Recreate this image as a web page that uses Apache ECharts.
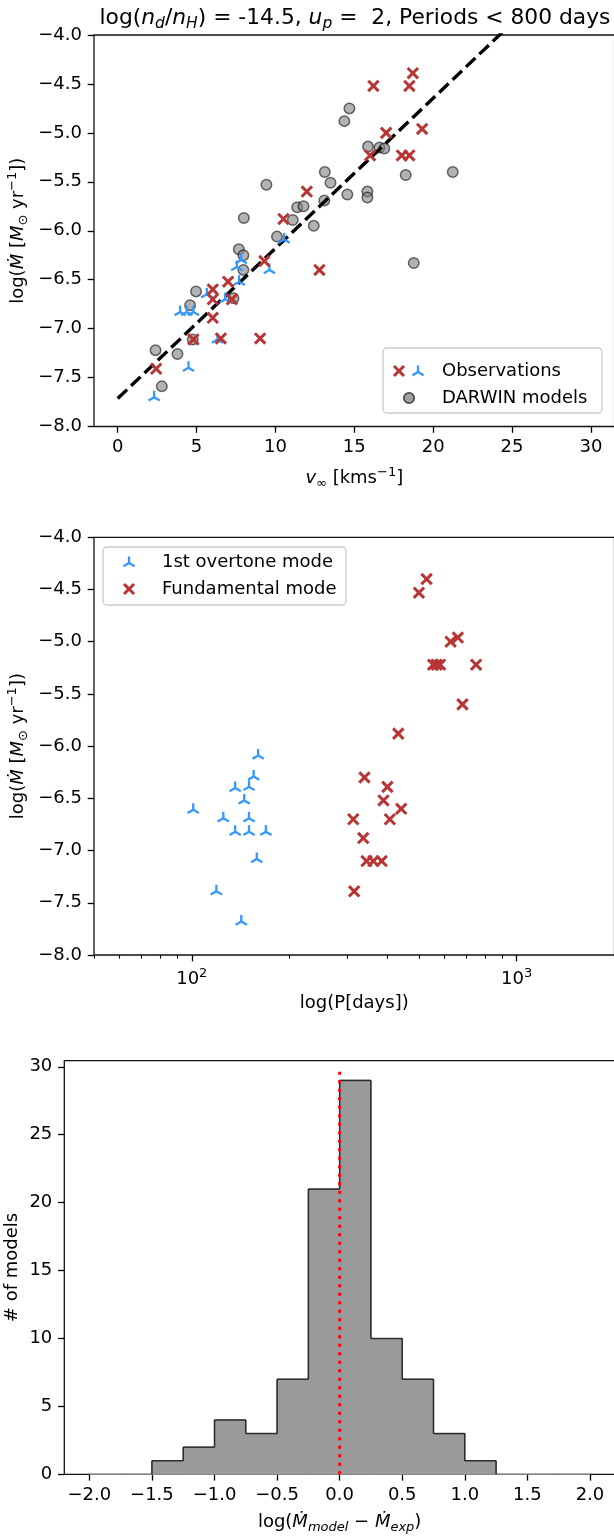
<!DOCTYPE html>
<html>
<head>
<meta charset="utf-8">
<script src="https://cdn.jsdelivr.net/npm/echarts@6/dist/echarts.min.js"></script>
<style>
html,body{margin:0;padding:0;background:#fff;overflow:hidden}
#c{width:614px;height:1537px}
</style>
</head>
<body>
<div id="c"></div>
<script>
// ---------- DATA ----------
// Panel 1: terminal wind velocity [km/s] vs log mass-loss rate
const modelV    = [14.69,14.37,15.87,16.6,16.9,13.13,13.49,14.56,15.83,15.83,13.1,9.43,11.38,11.78,11.1,12.43,8.0,10.1,7.68,21.24,18.26,18.77,7.97,7.97,4.97,4.59,7.34,4.76,2.4,3.79,2.8];
const modelMdot = [-4.75,-4.88,-5.14,-5.15,-5.16,-5.40,-5.51,-5.63,-5.60,-5.66,-5.69,-5.53,-5.76,-5.75,-5.89,-5.95,-5.87,-6.06,-6.19,-5.40,-5.43,-6.33,-6.25,-6.40,-6.62,-6.76,-6.69,-7.11,-7.22,-7.26,-7.59];

const fundV    = [16.21,11.99,10.51,16.0,18.71,18.49,17.02,19.3,18.01,18.49,9.3,12.79,7.0,6.03,6.03,7.24,6.03,4.8,6.54,9.03,2.44];
const fundMdot = [-4.52,-5.60,-5.88,-5.23,-4.39,-4.52,-5.0,-4.96,-5.23,-5.23,-6.31,-6.40,-6.52,-6.60,-6.70,-6.70,-6.89,-7.11,-7.10,-7.10,-7.41];

const overV    = [10.55,9.62,7.83,7.55,7.7,5.65,6.81,3.96,4.38,4.8,6.33,4.49,2.31];
const overMdot = [-6.09,-6.40,-6.30,-6.37,-6.52,-6.65,-6.70,-6.83,-6.83,-6.83,-7.11,-7.40,-7.70];

const fitV    = [0, 30];
const fitMdot = [-7.715, -3.11];

// Panel 2: period [days] vs log mass-loss rate
const overP     = [160,155,150,136,145,101,125,150,136,150,169,158.5,119,142];
const overMdotP = [-6.09,-6.29,-6.39,-6.40,-6.52,-6.61,-6.69,-6.69,-6.82,-6.82,-6.82,-7.08,-7.39,-7.68];

const fundP     = [528,500,659,626,553,567,581,750,681,432,340,400,389,441,314,407,337,345,362,384,316];
const fundMdotP = [-4.40,-4.53,-4.96,-5.0,-5.22,-5.22,-5.22,-5.22,-5.60,-5.88,-6.30,-6.39,-6.52,-6.60,-6.70,-6.70,-6.88,-7.10,-7.10,-7.10,-7.39];

// Panel 3: histogram
const binEdges  = [-2.0,-1.75,-1.5,-1.25,-1.0,-0.75,-0.5,-0.25,0.0,0.25,0.5,0.75,1.0,1.25,1.5,1.75,2.0];
const binCounts = [0,0,1,2,4,3,7,21,29,10,7,3,1,0,0,0];
const zeroLineX = [0, 0];
const zeroLineY = [0, 30];

// tick labels
const v_ticks   = [0,5,10,15,20,25,30];
const p_major   = [100, 1000];
const p_minor   = [50,60,70,80,90,200,300,400,500,600,700,800,900,2000];
const h_xticks  = [-2.0,-1.5,-1.0,-0.5,0.0,0.5,1.0,1.5,2.0];
const h_yticks  = [0,5,10,15,20,25,30];

// ---------- STYLE ----------
const FONT = 'DejaVu Sans';
const RED = '#b83535';
const BLUE = '#3399ff';
const minus = s => String(s).replace('-', '\u2212');

const richBase = {
  i:  {fontFamily: FONT, fontStyle: 'italic', fontSize: 18, lineHeight: 24, color: '#000'},
  s:  {fontFamily: FONT, fontSize: 13, lineHeight: 12, verticalAlign: 'bottom', color: '#000'},
  si: {fontFamily: FONT, fontStyle: 'italic', fontSize: 13, lineHeight: 12, verticalAlign: 'bottom', color: '#000'},
  p:  {fontFamily: FONT, fontSize: 13, lineHeight: 12, verticalAlign: 'top', color: '#000'}
};
const nameStyle = {fontFamily: FONT, fontSize: 18, lineHeight: 24, color: '#000', rich: richBase};

const tickStyle = {show: true, length: 6.3, lineStyle: {color: '#000', width: 1.3}};
const labelStyle = {fontFamily: FONT, fontSize: 18, color: '#000', margin: 12};
const noLine = {show: false, onZero: false};

function zip(a, b) { return a.map((v, i) => [v, b[i]]); }

function xMarker(color) {
  return function (params, api) {
    const p = api.coord([api.value(0), api.value(1)]);
    const s = 5.2;
    const st = {stroke: color, lineWidth: 3};
    return {type: 'group', children: [
      {type: 'line', shape: {x1: p[0]-s, y1: p[1]-s, x2: p[0]+s, y2: p[1]+s}, style: st},
      {type: 'line', shape: {x1: p[0]-s, y1: p[1]+s, x2: p[0]+s, y2: p[1]-s}, style: st}
    ]};
  };
}
function triUp(color) {
  return function (params, api) {
    const p = api.coord([api.value(0), api.value(1)]);
    const L = 6.5;
    const st = {stroke: color, lineWidth: 2.3};
    return {type: 'group', children: [
      {type: 'line', shape: {x1: p[0], y1: p[1], x2: p[0], y2: p[1]-L}, style: st},
      {type: 'line', shape: {x1: p[0], y1: p[1], x2: p[0]-L*0.866, y2: p[1]+L*0.5}, style: st},
      {type: 'line', shape: {x1: p[0], y1: p[1], x2: p[0]+L*0.866, y2: p[1]+L*0.5}, style: st}
    ]};
  };
}

const gridBorder = {show: true, borderColor: '#111', borderWidth: 1.3, backgroundColor: 'transparent',
                    containLabel: false, outerBoundsMode: 'none'};

const option = {
  animation: false,
  backgroundColor: '#fff',
  title: {
    text: 'log({i|n}{si|d}/{i|n}{si|H}) = -14.5, {i|u}{si|p} =  2, Periods < 800 days',
    left: 350, top: -1, textAlign: 'center',
    textStyle: {fontFamily: FONT, fontSize: 21.8, fontWeight: 'normal', lineHeight: 28, color: '#000',
      rich: {
        i:  {fontFamily: FONT, fontStyle: 'italic', fontSize: 21.8, lineHeight: 28, color: '#000'},
        si: {fontFamily: FONT, fontStyle: 'italic', fontSize: 15.5, lineHeight: 14, verticalAlign: 'bottom', color: '#000'}
      }}
  },
  grid: [
    Object.assign({left: 94, top: 35, width: 520.6, height: 391.5}, gridBorder),
    Object.assign({left: 94, top: 537.3, width: 520.5, height: 417.7}, gridBorder),
    Object.assign({left: 64.3, top: 1060.7, width: 550.7, height: 413.6}, gridBorder)
  ],
  xAxis: [
    {gridIndex: 0, type: 'value', min: -1.5, max: 31.5, position: 'bottom',
     axisLine: noLine, splitLine: {show: false},
     axisTick: Object.assign({customValues: v_ticks}, tickStyle),
     axisLabel: Object.assign({customValues: v_ticks, formatter: v => minus(v)}, labelStyle),
     name: '{i|v}{s|\u221e} [kms{p|\u22121}]', nameLocation: 'middle', nameGap: 40, nameTextStyle: nameStyle},
    {gridIndex: 1, type: 'log', logBase: 10, min: 50, max: 2000, position: 'bottom',
     axisLine: noLine, splitLine: {show: false},
     axisTick: Object.assign({customValues: p_major}, tickStyle),
     axisLabel: Object.assign({customValues: p_major,
        formatter: v => (v < 500 ? '{n|10}{p|2}' : '{n|10}{p|3}'),
        rich: {n: {fontFamily: FONT, fontSize: 18, lineHeight: 24, color: '#000'},
               p: {fontFamily: FONT, fontSize: 13, lineHeight: 13, verticalAlign: 'top', color: '#000'}}}, labelStyle),
     name: 'log(P[days])', nameLocation: 'middle', nameGap: 36, nameTextStyle: nameStyle},
    {gridIndex: 1, type: 'log', logBase: 10, min: 50, max: 2000, position: 'bottom',
     axisLine: noLine, splitLine: {show: false},
     axisTick: {show: true, customValues: p_minor, length: 3.6, lineStyle: {color: '#000', width: 1.1}},
     axisLabel: {show: false}},
    {gridIndex: 2, type: 'value', min: -2.2, max: 2.2, position: 'bottom',
     axisLine: noLine, splitLine: {show: false},
     axisTick: Object.assign({customValues: h_xticks}, tickStyle),
     axisLabel: Object.assign({customValues: h_xticks, formatter: v => minus(v.toFixed(1))}, labelStyle),
     name: 'log({i|\u1E40}{si|model} \u2212 {i|\u1E40}{si|exp})', nameLocation: 'middle', nameGap: 36, nameTextStyle: nameStyle}
  ],
  yAxis: [
    {gridIndex: 0, type: 'value', min: -8, max: -4, interval: 0.5,
     axisLine: noLine, splitLine: {show: false},
     axisTick: tickStyle,
     axisLabel: Object.assign({formatter: v => minus(v.toFixed(1))}, labelStyle),
     name: 'log({i|\u1E40} [{i|M}{s|\u2299} yr{p|\u22121}])', nameLocation: 'middle', nameRotate: 90,
     nameGap: 64, nameMoveOverlap: false, nameTextStyle: nameStyle},
    {gridIndex: 1, type: 'value', min: -8, max: -4, interval: 0.5,
     axisLine: noLine, splitLine: {show: false},
     axisTick: tickStyle,
     axisLabel: Object.assign({formatter: v => minus(v.toFixed(1))}, labelStyle),
     name: 'log({i|\u1E40} [{i|M}{s|\u2299} yr{p|\u22121}])', nameLocation: 'middle', nameRotate: 90,
     nameGap: 64, nameMoveOverlap: false, nameTextStyle: nameStyle},
    {gridIndex: 2, type: 'value', min: 0, max: 30.45,
     axisLine: noLine, splitLine: {show: false},
     axisTick: Object.assign({customValues: h_yticks}, tickStyle),
     axisLabel: Object.assign({customValues: h_yticks, formatter: v => String(v)}, labelStyle),
     name: '# of models', nameLocation: 'middle', nameRotate: 90,
     nameGap: 40, nameMoveOverlap: false, nameTextStyle: nameStyle}
  ],
  series: [
    {type: 'scatter', name: 'DARWIN models', xAxisIndex: 0, yAxisIndex: 0, z: 2,
     data: zip(modelV, modelMdot), symbol: 'circle', symbolSize: 10.5,
     itemStyle: {color: 'rgba(128,128,128,0.75)', borderColor: 'rgba(0,0,0,0.7)', borderWidth: 1.5}},
    {type: 'line', name: 'fit', xAxisIndex: 0, yAxisIndex: 0, z: 3, symbol: 'none', clip: true,
     data: zip(fitV, fitMdot), lineStyle: {color: '#000', width: 3.4, type: [13, 5.5]}},
    {type: 'custom', name: 'obs overtone', xAxisIndex: 0, yAxisIndex: 0, z: 4, clip: true,
     data: zip(overV, overMdot), renderItem: triUp(BLUE)},
    {type: 'custom', name: 'obs fundamental', xAxisIndex: 0, yAxisIndex: 0, z: 5, clip: true,
     data: zip(fundV, fundMdot), renderItem: xMarker(RED)},
    {type: 'custom', name: '1st overtone mode', xAxisIndex: 1, yAxisIndex: 1, z: 4, clip: true,
     data: zip(overP, overMdotP), renderItem: triUp(BLUE)},
    {type: 'custom', name: 'Fundamental mode', xAxisIndex: 1, yAxisIndex: 1, z: 5, clip: true,
     data: zip(fundP, fundMdotP), renderItem: xMarker(RED)},
    {type: 'custom', name: 'hist', xAxisIndex: 3, yAxisIndex: 2, z: 2,
     data: binCounts.map((c, i) => [binEdges[i], binEdges[i+1], c]),
     encode: {x: [0, 1], y: 2},
     renderItem: function (params, api) {
       const i = params.dataIndex;
       const x0 = api.value(0), x1 = api.value(1), c = api.value(2);
       const tl = api.coord([x0, c]);
       const br = api.coord([x1, 0]);
       const prev = i > 0 ? binCounts[i-1] : 0;
       const pp = api.coord([x0, prev]);
       const edge = {stroke: 'rgba(0,0,0,0.72)', lineWidth: 1.6};
       const ch = [];
       if (c > 0) {
         ch.push({type: 'rect', shape: {x: tl[0], y: tl[1], width: br[0]-tl[0], height: br[1]-tl[1]},
                  style: {fill: '#9a9a9a', stroke: '#9a9a9a', lineWidth: 1}});
       }
       ch.push({type: 'line', z2: 5, shape: {x1: tl[0], y1: tl[1], x2: br[0], y2: tl[1]}, style: c > 0 ? edge : {stroke: '#888', lineWidth: 1.3}});
       ch.push({type: 'line', z2: 5, shape: {x1: tl[0], y1: pp[1], x2: tl[0], y2: tl[1]}, style: edge});
       if (i === binCounts.length - 1) {
         ch.push({type: 'line', z2: 5, shape: {x1: br[0], y1: tl[1], x2: br[0], y2: br[1]}, style: edge});
       }
       return {type: 'group', children: ch};
     }},
    {type: 'line', name: 'zero', xAxisIndex: 3, yAxisIndex: 2, z: 6, symbol: 'none',
     data: zip(zeroLineX, zeroLineY), lineStyle: {color: '#ff0000', width: 3, type: [3, 5.5]}}
  ],
  graphic: [
    // legend panel 1
    {type: 'rect', z: 20, shape: {x: 383, y: 348, width: 219, height: 65, r: 4},
     style: {fill: 'rgba(255,255,255,0.85)', stroke: '#cccccc', lineWidth: 1.3}},
    {type: 'line', z: 21, shape: {x1: 394, y1: 366, x2: 404, y2: 376}, style: {stroke: RED, lineWidth: 3}},
    {type: 'line', z: 21, shape: {x1: 394, y1: 376, x2: 404, y2: 366}, style: {stroke: RED, lineWidth: 3}},
    {type: 'line', z: 21, shape: {x1: 418, y1: 372, x2: 418, y2: 365.5}, style: {stroke: BLUE, lineWidth: 2.3}},
    {type: 'line', z: 21, shape: {x1: 418, y1: 372, x2: 412.4, y2: 375.2}, style: {stroke: BLUE, lineWidth: 2.3}},
    {type: 'line', z: 21, shape: {x1: 418, y1: 372, x2: 423.6, y2: 375.2}, style: {stroke: BLUE, lineWidth: 2.3}},
    {type: 'text', z: 21, x: 442, y: 371, style: {text: 'Observations', font: '18px "DejaVu Sans"', fill: '#000', verticalAlign: 'middle'}},
    {type: 'circle', z: 21, shape: {cx: 409, cy: 398, r: 5.25}, style: {fill: 'rgba(128,128,128,0.75)', stroke: 'rgba(0,0,0,0.7)', lineWidth: 1.5}},
    {type: 'text', z: 21, x: 442, y: 398, style: {text: 'DARWIN models', font: '18px "DejaVu Sans"', fill: '#000', verticalAlign: 'middle'}},
    // legend panel 2
    {type: 'rect', z: 20, shape: {x: 103, y: 547, width: 243, height: 58, r: 4},
     style: {fill: 'rgba(255,255,255,0.85)', stroke: '#cccccc', lineWidth: 1.3}},
    {type: 'line', z: 21, shape: {x1: 129, y1: 563, x2: 129, y2: 556.5}, style: {stroke: BLUE, lineWidth: 2.3}},
    {type: 'line', z: 21, shape: {x1: 129, y1: 563, x2: 123.4, y2: 566.2}, style: {stroke: BLUE, lineWidth: 2.3}},
    {type: 'line', z: 21, shape: {x1: 129, y1: 563, x2: 134.6, y2: 566.2}, style: {stroke: BLUE, lineWidth: 2.3}},
    {type: 'text', z: 21, x: 162, y: 562, style: {text: '1st overtone mode', font: '18px "DejaVu Sans"', fill: '#000', verticalAlign: 'middle'}},
    {type: 'line', z: 21, shape: {x1: 124, y1: 584, x2: 134, y2: 594}, style: {stroke: RED, lineWidth: 3}},
    {type: 'line', z: 21, shape: {x1: 124, y1: 594, x2: 134, y2: 584}, style: {stroke: RED, lineWidth: 3}},
    {type: 'text', z: 21, x: 162, y: 589, style: {text: 'Fundamental mode', font: '18px "DejaVu Sans"', fill: '#000', verticalAlign: 'middle'}}
  ]
};

const chart = echarts.init(document.getElementById('c'), null, {renderer: 'canvas', width: 614, height: 1537});
chart.setOption(option);
</script>
</body>
</html>
